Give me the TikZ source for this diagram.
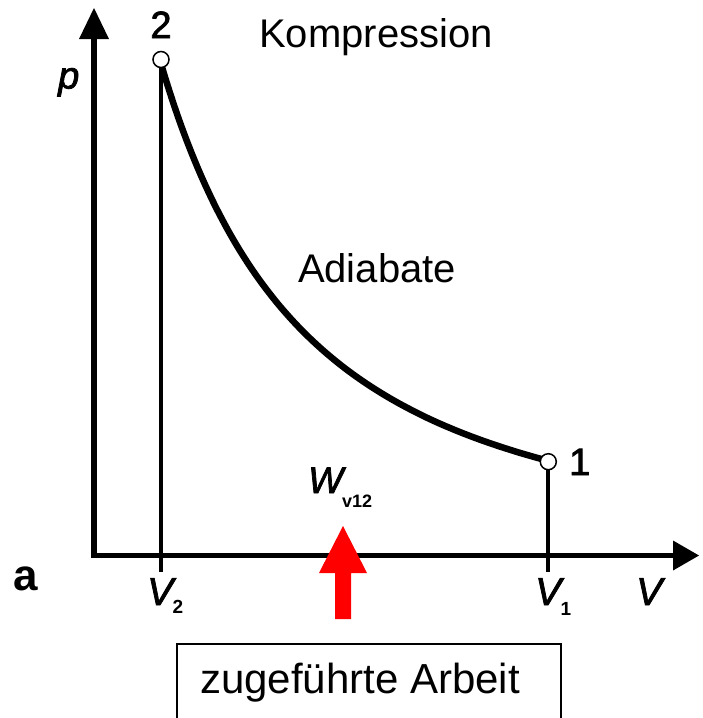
\documentclass[tikz,border=0pt]{standalone}
\usepackage{fontspec}
\setmainfont{Liberation Sans}
\newfontfamily\heavyfont[FakeBold=2]{Liberation Sans}
\begin{document}
\begin{tikzpicture}[x=1pt,y=-1pt,
  lbl/.style={inner sep=0pt, anchor=base, font=\fontsize{40}{48}\selectfont},
  state/.style={circle, draw, fill=white, line width=1.5pt, minimum size=16pt, inner sep=0pt},
  axisline/.style={line width=5.5pt, line join=miter},
  vline/.style={line width=4pt},
  tipfill/.style={fill=black},
  curveline/.style={line width=6.5pt, line cap=round},
  boxline/.style={line width=2pt}]
\useasboundingbox (0,0) rectangle (702,718);
% axes
\coordinate (O) at (94,555.5);
\coordinate (ytop) at (94,38);
\coordinate (xend) at (674,555.5);
\draw[axisline] (ytop) -- (O) -- (xend);
\fill[tipfill] (94,8) -- (109,39) -- (79,39) -- cycle;
\fill[tipfill] (699,555.5) -- (673,540.5) -- (673,570.5) -- cycle;
% adiabat
\draw[curveline] plot[domain=161:546, samples=90, smooth] (\x, {555.5-488.5*(262/(\x+100))^1.811});
% state points
\node[state] (p2) at (161,59.5) {};
\node[state] (p1) at (548.3,461.7) {};
\coordinate (v2) at (161,572);
\coordinate (v1) at (548.3,572);
\draw[vline] (p2) -- (v2);
\draw[vline] (p1) -- (v1);
% labels
\node[lbl, font=\heavyfont\fontsize{38}{44}\selectfont] (l2) at (161,38) {2};
\node[lbl, anchor=base west, font=\heavyfont\fontsize{38}{44}\selectfont] (l1) at (569,475) {1};
\node[lbl] (komp) at (376,47) {Kompression};
\node[lbl] (adia) at (377,282) {Adiabate};
\node[lbl, anchor=base west, font=\heavyfont\fontsize{38}{44}\selectfont\itshape] (pl) at (58,88.5) {p};
\node[lbl, anchor=base west, font=\heavyfont\fontsize{39}{48}\selectfont\itshape] (vl) at (636,605) {V};
\node[lbl, anchor=base west, font=\fontsize{39}{48}\selectfont] (v2l) at (147,605) {{\heavyfont\itshape V}\kern-0.5pt\raisebox{-8pt}{\fontsize{19}{19}\selectfont\bfseries 2}};
\node[lbl, anchor=base west, font=\fontsize{39}{48}\selectfont] (v1l) at (535,605) {{\heavyfont\itshape V}\kern-0.5pt\raisebox{-10pt}{\fontsize{19}{19}\selectfont\bfseries 1}};
\node[lbl, anchor=base west, font=\fontsize{37}{44}\selectfont] (wl) at (308,493) {{\heavyfont\itshape W}\kern-1pt\raisebox{-14pt}{\fontsize{18}{18}\selectfont\bfseries v12}};
\node[lbl, font=\fontsize{44}{50}\selectfont\bfseries] (al) at (25.5,590) {a};
% red arrow
\fill[red] (335,619) -- (351,619) -- (351,573) -- (367,573) -- (343,526) -- (319,573) -- (335,573) -- cycle;
% box
\coordinate (b1) at (177.3,720);
\coordinate (b2) at (177.3,644);
\coordinate (b3) at (561,644);
\coordinate (b4) at (561,720);
\draw[boxline] (b1) -- (b2) -- (b3) -- (b4);
\node[lbl, font=\fontsize{42}{50}\selectfont] (zug) at (360,693) {zugeführte Arbeit};
\end{tikzpicture}
\end{document}
